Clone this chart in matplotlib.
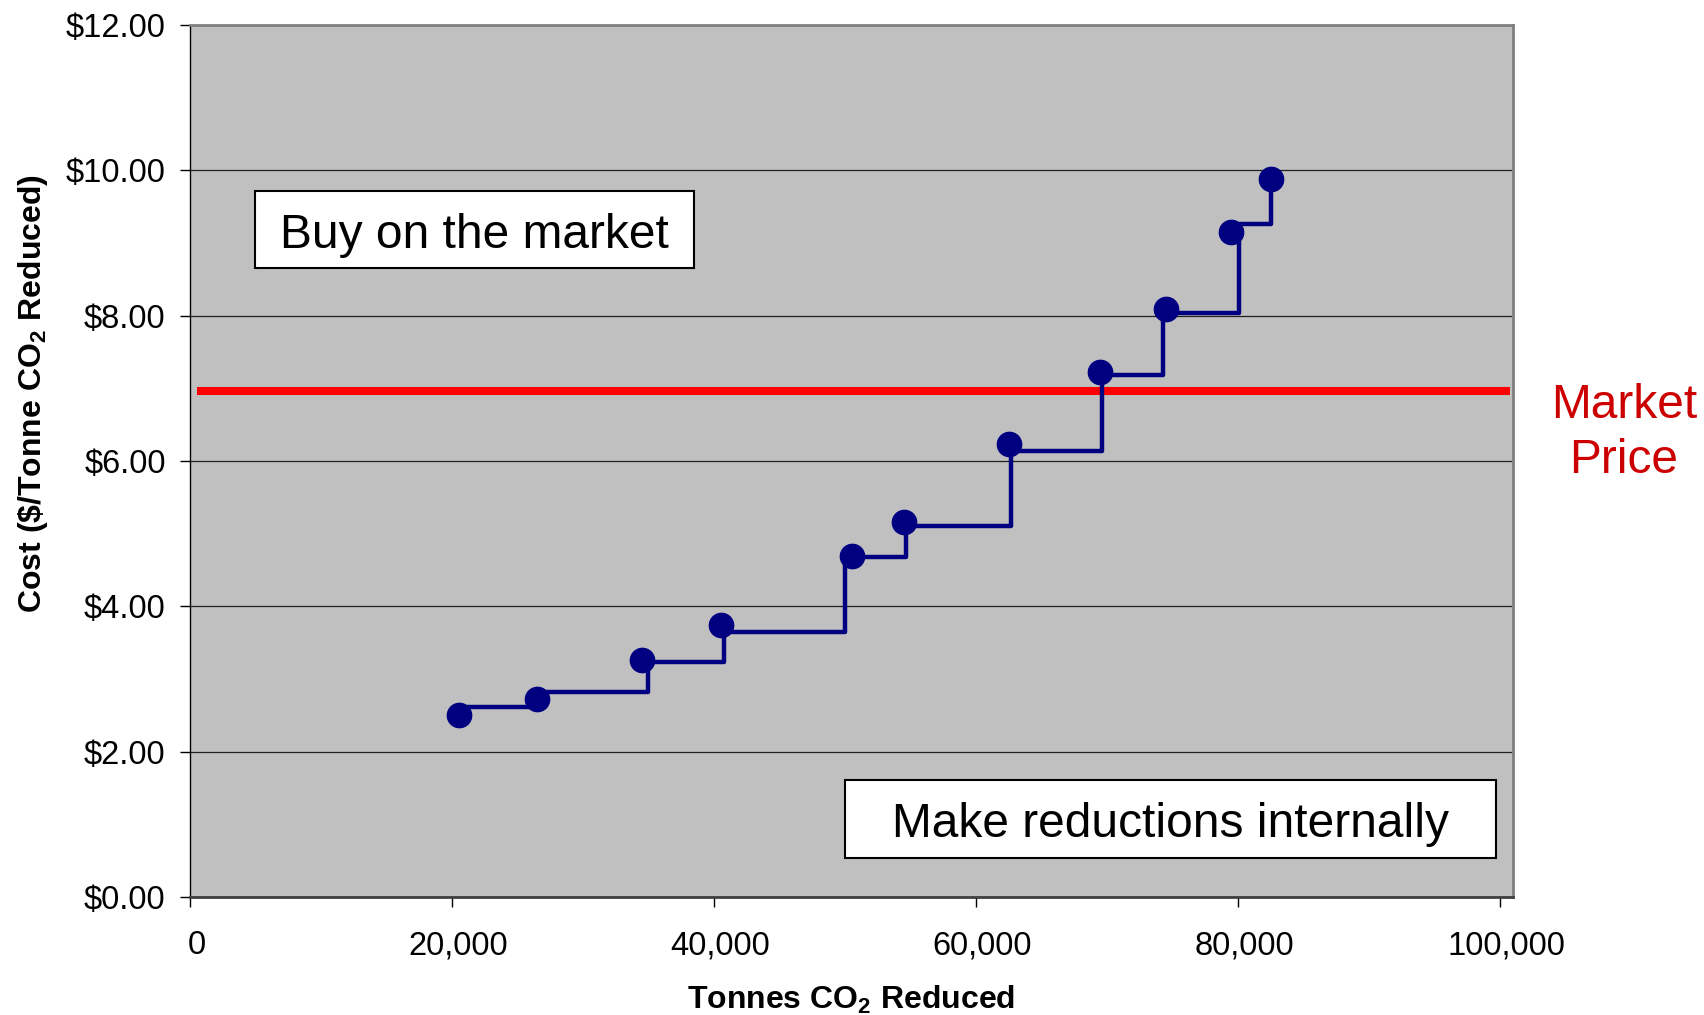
import matplotlib
matplotlib.use("Agg")
import matplotlib.pyplot as plt
import matplotlib.transforms as mtransforms
from matplotlib.patches import Rectangle
from matplotlib.ticker import FuncFormatter

plt.rcParams["font.family"] = ["Liberation Sans", "DejaVu Sans"]
plt.rcParams["mathtext.fontset"] = "custom"
plt.rcParams["mathtext.rm"] = "Liberation Sans"
plt.rcParams["mathtext.bf"] = "Liberation Sans:bold"

# abatement options (points)
tonnes = [20500, 26500, 34500, 40500, 50500, 54500, 62500, 69500, 74500, 79500, 82500]
cost = [2.50, 2.72, 3.26, 3.74, 4.69, 5.16, 6.23, 7.23, 8.09, 9.15, 9.88]

# staircase series (drawn as its own series, slightly offset from the points)
step_x = [20500, 26800, 35000, 40750, 50000, 54650, 62700, 69650, 74300, 80050, 82500]
step_y = [2.61, 2.82, 3.23, 3.65, 4.68, 5.10, 6.14, 7.18, 8.03, 9.26, 9.88]

market_x = [500, 100800]
market_price = [6.96, 6.96]

x_ticks = [0, 20000, 40000, 60000, 80000, 100000]
y_ticks = [0, 2, 4, 6, 8, 10, 12]

fig = plt.figure(figsize=(17.04, 10.15), dpi=100)
ax = fig.add_axes([190 / 1704, 1 - 897 / 1015, 1323 / 1704, 872 / 1015])
ax.set_facecolor("#C0C0C0")

ax.set_xlim(0, 101000)
ax.set_ylim(0, 12)
ax.set_xticks(x_ticks)
ax.set_yticks(y_ticks)
ax.xaxis.set_major_formatter(FuncFormatter(lambda v, p: "{:,.0f}".format(v)))
ax.yaxis.set_major_formatter(FuncFormatter(lambda v, p: "${:.2f}".format(v)))
ax.tick_params(axis="both", direction="out", length=7.5, width=1, color="black",
               labelsize=23.5)
ax.tick_params(axis="x", pad=16.5)
ax.tick_params(axis="y", pad=10)

# x tick labels sit a little right of their ticks in the original
shift = mtransforms.ScaledTranslation(6.5 / 100, 0, fig.dpi_scale_trans)
for lbl in ax.get_xticklabels():
    lbl.set_transform(lbl.get_transform() + shift)

ax.grid(axis="y", color="#202020", linewidth=0.9)
ax.set_axisbelow(True)

for s in ["top", "right"]:
    ax.spines[s].set_color("#808080")
    ax.spines[s].set_linewidth(2)
ax.spines["left"].set_color("black")
ax.spines["left"].set_linewidth(1)
ax.spines["bottom"].set_color("#404040")
ax.spines["bottom"].set_linewidth(2)

ax.plot(market_x, market_price, color="#FF0000", linewidth=5.8, solid_capstyle="butt", zorder=3)
ax.plot(step_x, step_y, drawstyle="steps-post", color="#000080", linewidth=3.2, zorder=4)
ax.plot(tonnes, cost, linestyle="none", marker="o", markersize=17.5, color="#000080", zorder=5)

# text boxes
ax.add_patch(Rectangle((0.0494, 0.7209), 0.3318, 0.0884, transform=ax.transAxes,
                       facecolor="white", edgecolor="black", linewidth=1.5, zorder=6))
ax.text(0.2153, 0.7586, "Buy on the market", transform=ax.transAxes, ha="center", va="center",
        fontsize=34.5, zorder=7)
ax.add_patch(Rectangle((0.4954, 0.0442), 0.4921, 0.0898, transform=ax.transAxes,
                       facecolor="white", edgecolor="black", linewidth=1.5, zorder=6))
ax.text(0.7414, 0.0826, "Make reductions internally", transform=ax.transAxes, ha="center",
        va="center", fontsize=34.5, zorder=7)

fig.text(1624 / 1704, 1 - 433 / 1015, "Market\nPrice", color="#CC0000", fontsize=34.5,
         ha="center", va="center", linespacing=1.27)

fig.text(851 / 1704, 1 - 1000 / 1015, r"Tonnes CO$_\mathbf{2}$ Reduced", fontsize=23,
         fontweight="bold", ha="center", va="center")
fig.text(33 / 1704, 1 - 393 / 1015, r"Cost (\$/Tonne CO$_\mathbf{2}$ Reduced)", fontsize=23,
         fontweight="bold", ha="center", va="center", rotation=90)

fig.savefig("out.png", dpi=100, facecolor="white")
